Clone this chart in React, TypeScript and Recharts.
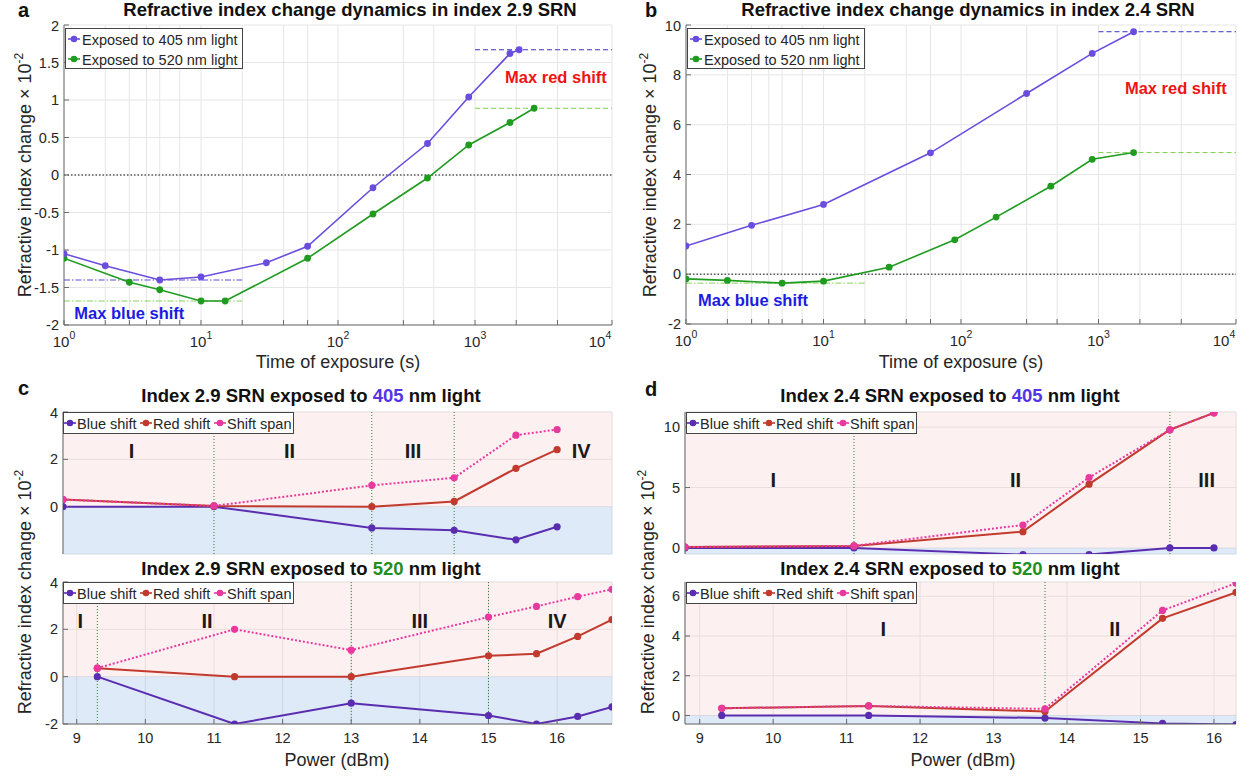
import React from 'react';
import {
  LineChart,
  Line,
  XAxis,
  YAxis,
  CartesianGrid,
  ReferenceLine,
  ReferenceArea,
  ReferenceDot,
} from 'recharts';

// ---------- a: index 2.9 SRN, refractive index change vs exposure time ----------
const timeA405 = [1, 2, 5, 10, 30, 60, 180, 450, 900, 1800, 2100];
const dnA405 = [-1.05, -1.21, -1.4, -1.36, -1.17, -0.95, -0.17, 0.42, 1.04, 1.62, 1.67];
const timeA520 = [1, 3, 5, 10, 15, 60, 180, 450, 900, 1800, 2700];
const dnA520 = [-1.11, -1.43, -1.53, -1.68, -1.68, -1.11, -0.52, -0.04, 0.4, 0.7, 0.89];

// ---------- b: index 2.4 SRN ----------
const timeB405 = [1, 3, 10, 60, 300, 900, 1800];
const dnB405 = [1.13, 1.96, 2.8, 4.87, 7.25, 8.86, 9.73];
const timeB520 = [1, 2, 5, 10, 30, 90, 180, 450, 900, 1800];
const dnB520 = [-0.19, -0.25, -0.36, -0.28, 0.28, 1.38, 2.29, 3.53, 4.61, 4.88];

const yTicksA = [-2, -1.5, -1, -0.5, 0, 0.5, 1, 1.5, 2];
const yTicksB = [-2, 0, 2, 4, 6, 8, 10];
const decades = [1, 10, 100, 1000, 10000];
const minorSteps = [1, 2, 3, 4, 5, 6, 7, 8, 9];

// ---------- c: index 2.9 SRN vs power ----------
const powerC405 = [8.8, 11, 13.3, 14.5, 15.4, 16];
const blueC405 = [0, 0, -0.9, -1.0, -1.4, -0.85];
const redC405 = [0.3, 0.03, 0, 0.22, 1.62, 2.41];
const spanC405 = [0.3, 0.03, 0.9, 1.22, 3.02, 3.26];
const stagesC405 = [11, 13.3, 14.5];
const stageXC405 = [9.8, 12.1, 13.9, 16.35];

const powerC520 = [9.3, 11.3, 13, 15, 15.7, 16.3, 16.8];
const blueC520 = [0, -2.0, -1.12, -1.64, -2.0, -1.68, -1.28];
const redC520 = [0.36, 0, 0, 0.88, 0.97, 1.7, 2.41];
const spanC520 = [0.36, 2.0, 1.12, 2.52, 2.97, 3.38, 3.69];
const stagesC520 = [9.3, 13, 15];
const stageXC520 = [9.05, 10.9, 14.0, 16.0];

// ---------- d: index 2.4 SRN vs power ----------
const powerD405 = [8.8, 11.1, 13.4, 14.3, 15.4, 16];
const blueD405 = [0, 0, -0.55, -0.55, 0, 0];
const redD405 = [0.08, 0.17, 1.35, 5.28, 9.78, 11.18];
const spanD405 = [0.08, 0.17, 1.9, 5.83, 9.78, 11.18];
const stagesD405 = [11.1, 15.4];
const stageXD405 = [10.0, 13.3, 15.9];

const powerD520 = [9.3, 11.3, 13.7, 15.3, 16.3];
const blueD520 = [0, 0, -0.13, -0.4, -0.46];
const redD520 = [0.36, 0.48, 0.2, 4.89, 6.2];
const spanD520 = [0.36, 0.48, 0.33, 5.29, 6.66];
const stagesD520 = [13.7];
const stageXD520 = [11.5, 14.65];

const powerTicks = [9, 10, 11, 12, 13, 14, 15, 16];
const powerRangeC: [number, number] = [8.8, 16.8];
const powerRangeD: [number, number] = [8.8, 16.3];
const yTicksC = [-2, 0, 2, 4];
const yTicksD405 = [0, 5, 10];
const yTicksD520 = [0, 2, 4, 6];
const romans = ['I', 'II', 'III', 'IV'];

// ---------- styling ----------
const FONT = '"Liberation Sans", Arial, Helvetica, sans-serif';
const INK = '#262626';
const BOX = '#6a6a6a';
const C405 = '#6a4ddf';
const C520 = '#1f9c1f';
const MAX405 = '#3b35c9';
const MAX520 = '#7bd24a';
const MIN405 = '#5b4ad6';
const MIN520 = '#86d45c';
const BLUE = '#5a2db0';
const RED = '#c23a2e';
const SPAN = '#e9399f';
const STAGE = '#2f7f2f';
const TICK = { fill: INK, fontSize: 14.5, fontFamily: FONT };

type Box = [number, number, number, number];
type Pt = { t: number; v: number };

const PAD = 8;
const YW = 50;

function frame(box: Box, xh: number) {
  const [x0, y0, x1, y1] = box;
  return {
    left: x0 - YW,
    top: y0 - PAD,
    width: x1 - x0 + YW + PAD,
    height: y1 - y0 + PAD + xh + PAD,
    margin: { top: PAD, right: PAD, bottom: PAD, left: 0 },
  };
}

const zip = (ts: number[], vs: number[]): Pt[] => ts.map((t, i) => ({ t, v: vs[i] }));

const logTicks = [
  ...decades.slice(0, -1).flatMap((d) => minorSteps.map((m) => m * d)),
  decades[decades.length - 1],
];

function DecadeTick(props: any) {
  const { x, y, payload } = props;
  const e = Math.log10(payload.value);
  if (Math.abs(e - Math.round(e)) > 1e-9) return <g />;
  return (
    <text x={x} y={y} textAnchor="middle" fontFamily={FONT} fontSize={15} fill={INK}>
      <tspan dy={22}>10</tspan>
      <tspan fontSize={10.5} dy={-8}>
        {Math.round(e)}
      </tspan>
    </text>
  );
}

function noteDot(key: string, x: number, y: number, text: string, color: string, size: number) {
  return (
    <ReferenceDot
      key={key}
      x={x}
      y={y}
      r={0}
      fill="none"
      stroke="none"
      label={{ value: text, position: 'center', fill: color, fontSize: size, fontWeight: 700, fontFamily: FONT }}
    />
  );
}

interface TimePanelProps {
  box: Box;
  yDomain: [number, number];
  yTicks: number[];
  curve405: Pt[];
  curve520: Pt[];
  redNote: [number, number];
  blueNote: [number, number];
}

function TimePanel({ box, yDomain, yTicks, curve405, curve520, redNote, blueNote }: TimePanelProps) {
  const f = frame(box, 30);
  const max405 = Math.max(...curve405.map((p) => p.v));
  const max520 = Math.max(...curve520.map((p) => p.v));
  const min405 = Math.min(...curve405.map((p) => p.v));
  const min520 = Math.min(...curve520.map((p) => p.v));
  const axisStroke = { stroke: BOX };
  return (
    <div style={{ position: 'absolute', left: f.left, top: f.top }}>
      <LineChart width={f.width} height={f.height} margin={f.margin}>
        <CartesianGrid stroke="#e6e6e6" />
        <XAxis
          dataKey="t"
          type="number"
          scale="log"
          domain={[1, 10000]}
          ticks={logTicks}
          allowDataOverflow
          height={30}
          tickSize={-5}
          tickMargin={5}
          tick={(p: any) => <DecadeTick {...p} />}
          axisLine={axisStroke}
          tickLine={axisStroke}
        />
        <XAxis
          xAxisId="top"
          orientation="top"
          type="number"
          scale="log"
          domain={[1, 10000]}
          ticks={logTicks}
          allowDataOverflow
          height={0}
          tickSize={-5}
          tick={false}
          axisLine={axisStroke}
          tickLine={axisStroke}
        />
        <YAxis
          type="number"
          domain={yDomain}
          ticks={yTicks}
          allowDataOverflow
          width={YW}
          tickSize={-5}
          tickMargin={10}
          tick={TICK}
          axisLine={axisStroke}
          tickLine={axisStroke}
        />
        <YAxis
          yAxisId="right"
          orientation="right"
          type="number"
          domain={yDomain}
          ticks={yTicks}
          allowDataOverflow
          width={0}
          tickSize={-5}
          tick={false}
          axisLine={axisStroke}
          tickLine={axisStroke}
        />
        <ReferenceLine y={0} stroke="#111" strokeDasharray="1.5 2" />
        <ReferenceLine
          segment={[{ x: 1000, y: max405 }, { x: 10000, y: max405 }]}
          stroke={MAX405}
          strokeDasharray="5 3"
        />
        <ReferenceLine
          segment={[{ x: 1000, y: max520 }, { x: 10000, y: max520 }]}
          stroke={MAX520}
          strokeDasharray="5 3"
        />
        {min405 < 0 && (
          <ReferenceLine
            segment={[{ x: 1, y: min405 }, { x: 20, y: min405 }]}
            stroke={MIN405}
            strokeDasharray="6 2 1.5 2"
          />
        )}
        {min520 < 0 && (
          <ReferenceLine
            segment={[{ x: 1, y: min520 }, { x: 20, y: min520 }]}
            stroke={MIN520}
            strokeDasharray="6 2 1.5 2"
          />
        )}
        <Line
          data={curve520}
          dataKey="v"
          stroke={C520}
          strokeWidth={1.6}
          dot={{ r: 3.4, fill: C520, stroke: C520, strokeWidth: 0 }}
          activeDot={false}
          isAnimationActive={false}
        />
        <Line
          data={curve405}
          dataKey="v"
          stroke={C405}
          strokeWidth={1.6}
          dot={{ r: 3.4, fill: C405, stroke: C405, strokeWidth: 0 }}
          activeDot={false}
          isAnimationActive={false}
        />
        {noteDot('red', redNote[0], redNote[1], 'Max red shift', '#ee1414', 16.5)}
        {noteDot('blue', blueNote[0], blueNote[1], 'Max blue shift', '#1c1ce0', 16.5)}
      </LineChart>
    </div>
  );
}

interface PowerPlotProps {
  box: Box;
  xDomain: [number, number];
  yDomain: [number, number];
  yTicks: number[];
  power: number[];
  blue: number[];
  red: number[];
  span: number[];
  stages: number[];
  stageX: number[];
  stageY: number;
  labelled: boolean;
}

function PowerPlot(props: PowerPlotProps) {
  const { box, xDomain, yDomain, yTicks, power, blue, red, span, stages, stageX, stageY, labelled } = props;
  const rows = power.map((p, i) => ({ p, blue: blue[i], red: red[i], span: span[i] }));
  const f = frame(box, labelled ? 30 : 0);
  const axisStroke = { stroke: BOX };
  return (
    <div style={{ position: 'absolute', left: f.left, top: f.top }}>
      <LineChart width={f.width} height={f.height} margin={f.margin} data={rows}>
        <ReferenceArea y1={0} y2={yDomain[1]} fill="#fbe1e1" fillOpacity={0.5} stroke="none" />
        <ReferenceArea y1={yDomain[0]} y2={0} fill="#bdd5f1" fillOpacity={0.5} stroke="none" />
        <CartesianGrid stroke="#d9d9d9" />
        <XAxis
          dataKey="p"
          type="number"
          domain={xDomain}
          ticks={powerTicks}
          allowDataOverflow
          height={labelled ? 30 : 0}
          tickSize={-5}
          tickMargin={14}
          tick={labelled ? TICK : false}
          axisLine={axisStroke}
          tickLine={axisStroke}
        />
        <XAxis
          xAxisId="top"
          orientation="top"
          type="number"
          domain={xDomain}
          ticks={powerTicks}
          allowDataOverflow
          height={0}
          tickSize={-5}
          tick={false}
          axisLine={axisStroke}
          tickLine={axisStroke}
        />
        <YAxis
          type="number"
          domain={yDomain}
          ticks={yTicks}
          allowDataOverflow
          width={YW}
          tickSize={-5}
          tickMargin={10}
          tick={TICK}
          axisLine={axisStroke}
          tickLine={axisStroke}
        />
        <YAxis
          yAxisId="right"
          orientation="right"
          type="number"
          domain={yDomain}
          ticks={yTicks}
          allowDataOverflow
          width={0}
          tickSize={-5}
          tick={false}
          axisLine={axisStroke}
          tickLine={axisStroke}
        />
        {stages.map((s) => (
          <ReferenceLine key={s} x={s} stroke={STAGE} strokeDasharray="1 2" />
        ))}
        {stageX.map((x, i) => noteDot('st' + i, x, stageY, romans[i], '#1a1a1a', 20))}
        <Line
          dataKey="blue"
          stroke={BLUE}
          strokeWidth={2}
          dot={{ r: 3.6, fill: BLUE, stroke: BLUE, strokeWidth: 0 }}
          activeDot={false}
          isAnimationActive={false}
        />
        <Line
          dataKey="red"
          stroke={RED}
          strokeWidth={2}
          dot={{ r: 3.6, fill: RED, stroke: RED, strokeWidth: 0 }}
          activeDot={false}
          isAnimationActive={false}
        />
        <Line
          dataKey="span"
          stroke={SPAN}
          strokeWidth={2}
          strokeDasharray="2 2"
          dot={{ r: 3.6, fill: SPAN, stroke: SPAN, strokeWidth: 0, strokeDasharray: '' }}
          activeDot={false}
          isAnimationActive={false}
        />
      </LineChart>
    </div>
  );
}

function Sample({ x, y, color }: { x: number; y: number; color: string }) {
  return (
    <g>
      <line x1={x - 6} x2={x + 6} y1={y} y2={y} stroke={color} strokeWidth={1.6} />
      <circle cx={x} cy={y} r={3.3} fill={color} />
    </g>
  );
}

function TimeLegend({ dx }: { dx: number }) {
  return (
    <g transform={`translate(${dx},0)`}>
      <rect x={65.5} y={28.5} width={177} height={40} fill="#fff" stroke="#444" />
      <Sample x={74} y={39} color={C405} />
      <text x={82} y={44.5} fontSize={14.5} fill={INK}>Exposed to 405 nm light</text>
      <Sample x={74} y={59} color={C520} />
      <text x={82} y={64.5} fontSize={14.5} fill={INK}>Exposed to 520 nm light</text>
    </g>
  );
}

const shiftLegend = [
  { label: 'Blue shift', color: BLUE, mx: 70 },
  { label: 'Red shift', color: RED, mx: 146 },
  { label: 'Shift span', color: SPAN, mx: 220 },
];

function ShiftLegend({ dx, dy }: { dx: number; dy: number }) {
  return (
    <g transform={`translate(${dx},${dy})`}>
      <rect x={63.5} y={412.5} width={230} height={21} fill="#fff" stroke="#444" />
      {shiftLegend.map((it) => (
        <g key={it.label}>
          <Sample x={it.mx} y={423} color={it.color} />
          <text x={it.mx + 7} y={428.5} fontSize={14.5} fill={INK}>
            {it.label}
          </text>
        </g>
      ))}
    </g>
  );
}

function YTitle({ x, y }: { x: number; y: number }) {
  return (
    <text transform={`translate(${x},${y}) rotate(-90)`} textAnchor="middle" fontSize={18} fill={INK}>
      Refractive index change × 10
      <tspan fontSize={12} dy={-8}>
        -2
      </tspan>
    </text>
  );
}

function PowerTitle({ x, y, index, wl, color }: { x: number; y: number; index: string; wl: string; color: string }) {
  return (
    <text x={x} y={y} textAnchor="middle" fontSize={18.5} fontWeight={700} fill="#111">
      Index {index} SRN exposed to <tspan fill={color}>{wl}</tspan> nm light
    </text>
  );
}

export default function App() {
  return (
    <div
      style={{
        position: 'absolute',
        left: 0,
        top: 0,
        width: 1260,
        height: 776,
        background: '#fff',
        fontFamily: FONT,
        overflow: 'hidden',
      }}
    >
      <TimePanel
        box={[64, 25, 612, 325]}
        yDomain={[-2, 2]}
        yTicks={yTicksA}
        curve405={zip(timeA405, dnA405)}
        curve520={zip(timeA520, dnA520)}
        redNote={[3900, 1.3]}
        blueNote={[3.0, -1.84]}
      />
      <TimePanel
        box={[686, 25, 1236, 324]}
        yDomain={[-2, 10]}
        yTicks={yTicksB}
        curve405={zip(timeB405, dnB405)}
        curve520={zip(timeB520, dnB520)}
        redNote={[3650, 7.47]}
        blueNote={[3.07, -1.04]}
      />
      <PowerPlot
        box={[63, 412, 612, 554]}
        xDomain={powerRangeC}
        yDomain={[-2, 4]}
        yTicks={yTicksC}
        power={powerC405}
        blue={blueC405}
        red={redC405}
        span={spanC405}
        stages={stagesC405}
        stageX={stageXC405}
        stageY={2.35}
        labelled={false}
      />
      <PowerPlot
        box={[63, 582, 612, 724]}
        xDomain={powerRangeC}
        yDomain={[-2, 4]}
        yTicks={yTicksC}
        power={powerC520}
        blue={blueC520}
        red={redC520}
        span={spanC520}
        stages={stagesC520}
        stageX={stageXC520}
        stageY={2.35}
        labelled
      />
      <PowerPlot
        box={[685, 412, 1236, 554]}
        xDomain={powerRangeD}
        yDomain={[-0.5, 11.25]}
        yTicks={yTicksD405}
        power={powerD405}
        blue={blueD405}
        red={redD405}
        span={spanD405}
        stages={stagesD405}
        stageX={stageXD405}
        stageY={5.6}
        labelled={false}
      />
      <PowerPlot
        box={[685, 582, 1236, 724]}
        xDomain={powerRangeD}
        yDomain={[-0.43, 6.72]}
        yTicks={yTicksD520}
        power={powerD520}
        blue={blueD520}
        red={redD520}
        span={spanD520}
        stages={stagesD520}
        stageX={stageXD520}
        stageY={4.35}
        labelled
      />

      <svg
        width={1260}
        height={776}
        style={{ position: 'absolute', left: 0, top: 0, pointerEvents: 'none' }}
        fontFamily={FONT}
      >
        <g fontSize={20} fontWeight={700} fill="#111">
          <text x={18} y={17}>a</text>
          <text x={645} y={17}>b</text>
          <text x={18} y={395}>c</text>
          <text x={645} y={396}>d</text>
        </g>
        <g fontSize={18.5} fontWeight={700} fill="#111" textAnchor="middle">
          <text x={350} y={15.5}>Refractive index change dynamics in index 2.9 SRN</text>
          <text x={968} y={15.5}>Refractive index change dynamics in index 2.4 SRN</text>
        </g>
        <PowerTitle x={311} y={402} index="2.9" wl="405" color="#5533e6" />
        <PowerTitle x={311} y={575} index="2.9" wl="520" color="#1f8f1f" />
        <PowerTitle x={950} y={402} index="2.4" wl="405" color="#5533e6" />
        <PowerTitle x={950} y={575} index="2.4" wl="520" color="#1f8f1f" />

        <g fontSize={18} fill={INK} textAnchor="middle">
          <text x={338} y={368}>Time of exposure (s)</text>
          <text x={961} y={368}>Time of exposure (s)</text>
          <text x={337} y={766}>Power (dBm)</text>
          <text x={963} y={766}>Power (dBm)</text>
        </g>
        <YTitle x={31} y={175} />
        <YTitle x={656} y={175} />
        <YTitle x={31} y={592} />
        <YTitle x={654} y={592} />

        <TimeLegend dx={0} />
        <TimeLegend dx={622} />
        <ShiftLegend dx={0} dy={0} />
        <ShiftLegend dx={0} dy={170} />
        <ShiftLegend dx={623} dy={0} />
        <ShiftLegend dx={623} dy={170} />
      </svg>
    </div>
  );
}
